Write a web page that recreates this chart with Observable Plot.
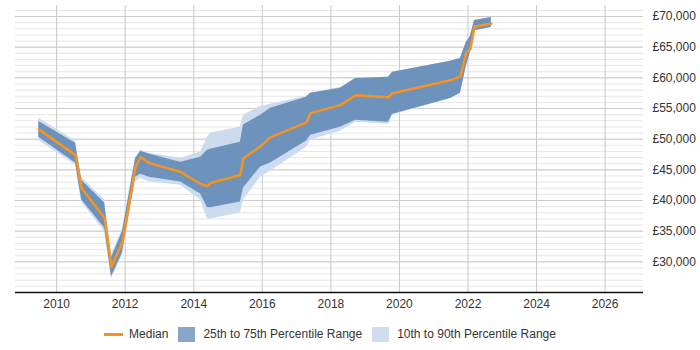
<!DOCTYPE html>
<html>
<head>
<meta charset="utf-8">
<script src="https://cdn.jsdelivr.net/npm/d3@7"></script>
<script src="https://cdn.jsdelivr.net/npm/@observablehq/plot@0.6"></script>
<style>
  html, body { margin: 0; padding: 0; background: #fff; }
  body { width: 700px; height: 350px; overflow: hidden; font-family: "Liberation Sans", Arial, sans-serif; position: relative; }
  #chart { position: absolute; left: 0; top: 0; }
  #legend { position: absolute; left: 0; top: 325px; width: 660px; height: 18px; display: flex; justify-content: center; align-items: center; font-size: 12px; color: #333; }
  .sw-line { width: 19px; height: 3px; background: #f7931e; margin-right: 6px; }
  .sw-box { width: 17px; height: 15px; margin-right: 8px; }
  .item { display: flex; align-items: center; margin: 0 5px; }
</style>
</head>
<body>
<div id="chart"></div>
<div id="legend">
  <div class="item"><div class="sw-line"></div><span>Median</span></div>
  <div class="item"><div class="sw-box" style="background:#88a6c6"></div><span>25th to 75th Percentile Range</span></div>
  <div class="item"><div class="sw-box" style="background:#cfddee"></div><span>10th to 90th Percentile Range</span></div>
</div>
<script>
// Dates as fractional years
const years  = [2009.48, 2010.55, 2010.73, 2011.40, 2011.60, 2011.92, 2012.30, 2012.45, 2012.71, 2013.62, 2014.20, 2014.40, 2014.49, 2015.36, 2015.45, 2015.95, 2016.24, 2017.29, 2017.41, 2018.28, 2018.72, 2019.68, 2019.80, 2021.49, 2021.78, 2021.95, 2022.07, 2022.19, 2022.68];
const p90    = [53400, 49700, 43800, 40100, 31150, 35350, 47050, 48200, 47700, 46900, 47900, 50300, 51000, 51950, 53900, 55350, 55700, 57000, 57500, 58450, 59900, 60100, 60900, 62700, 63150, 65750, 66750, 69350, 69850];
const p75    = [52900, 49350, 43300, 39600, 30650, 34900, 46750, 48050, 47550, 46250, 47050, 48200, 48350, 49500, 52300, 53900, 55050, 56850, 57500, 58300, 59900, 60100, 60900, 62700, 63150, 65750, 66750, 69350, 69850];
const median = [51600, 47400, 42000, 37150, 29200, 33250, 45450, 47050, 46100, 44650, 42700, 42350, 42850, 44150, 46900, 48850, 50300, 52750, 54250, 55550, 57150, 56850, 57500, 59600, 60250, 64150, 64650, 68350, 68850];
const p25    = [50300, 46100, 40100, 35500, 27550, 31450, 43800, 44300, 43800, 43000, 41050, 38800, 38800, 39750, 42050, 45450, 46100, 49700, 50650, 51950, 53100, 52750, 54050, 56650, 57500, 61850, 64150, 67700, 68200];
const p10    = [49800, 45800, 39750, 34900, 27250, 31000, 43000, 43650, 43000, 42500, 40100, 37000, 37000, 37950, 40100, 43800, 44800, 48700, 49850, 51300, 52750, 52450, 53900, 56650, 57500, 61850, 64150, 67700, 68200];

const xTicks = [2010, 2012, 2014, 2016, 2018, 2020, 2022, 2024, 2026];
const yTicks = [30000, 35000, 40000, 45000, 50000, 55000, 60000, 65000, 70000];
const yMinorTicks = d3.range(26000, 71001, 1000);

const data = years.map((y, i) => ({year: y, p10: p10[i], p25: p25[i], median: median[i], p75: p75[i], p90: p90[i]}));

const chart = Plot.plot({
  width: 700,
  height: 316,
  marginLeft: 15,
  marginRight: 57,
  marginTop: 5,
  marginBottom: 24,
  style: {fontFamily: '"Liberation Sans", Arial, sans-serif', fontSize: "12px", color: "#333", background: "#fff"},
  x: {domain: [2008.8, 2027.12], label: null},
  y: {domain: [25000, 71800], label: null},
  marks: [
    Plot.ruleY(yMinorTicks, {stroke: "#e6e6e6", strokeWidth: 1}),
    Plot.ruleY(yTicks, {stroke: "#cccccc", strokeWidth: 1}),
    Plot.ruleX(xTicks, {stroke: "#c8c8c8", strokeWidth: 1}),
    Plot.areaY(data, {x: "year", y1: "p10", y2: "p90", fill: "#ccdcee"}),
    Plot.areaY(data, {x: "year", y1: "p25", y2: "p75", fill: "#6d92bc"}),
    Plot.lineY(data, {x: "year", y: "median", stroke: "#f7931e", strokeWidth: 2.5}),
    Plot.ruleY([25000], {stroke: "#111", strokeWidth: 1.5}),
    Plot.axisX({ticks: xTicks, tickFormat: d => String(d), tickSize: 0, tickPadding: 7, fontSize: 12, label: null}),
    Plot.axisY({anchor: "right", ticks: yTicks, tickFormat: d => "£" + d3.format(",")(d), tickSize: 0, tickPadding: 9, fontSize: 12, label: null})
  ]
});
document.getElementById("chart").appendChild(chart);
</script>
</body>
</html>
